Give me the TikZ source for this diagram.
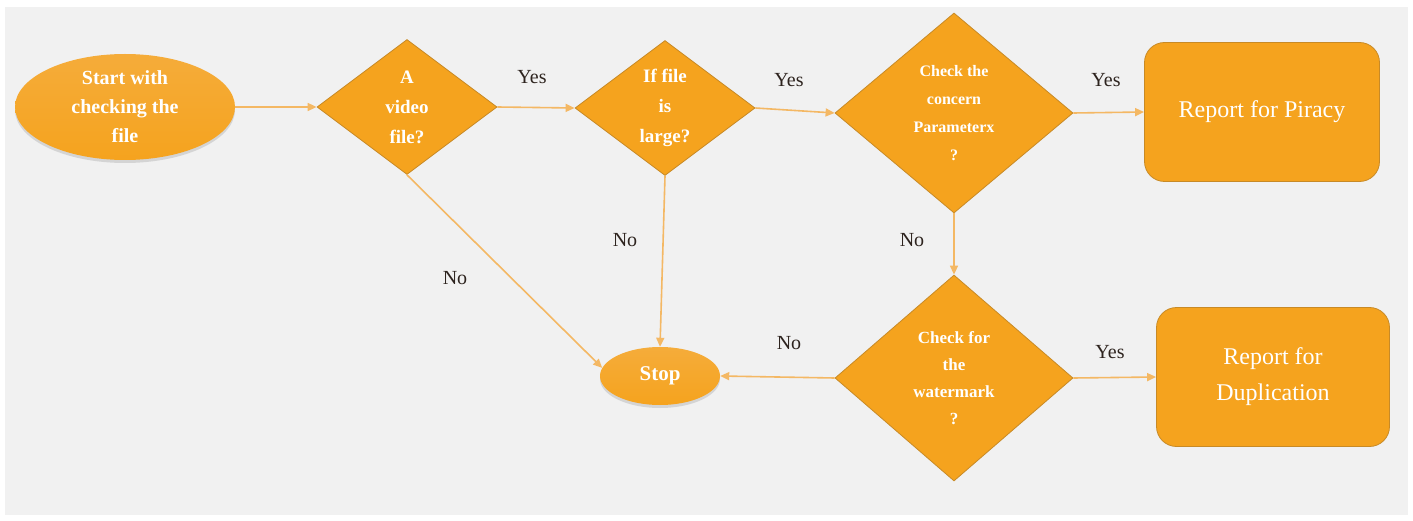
\documentclass[tikz,border=0pt]{standalone}
\usepackage{fontspec}
\setmainfont{Liberation Serif}
\usetikzlibrary{shapes.geometric,arrows.meta,shadows}
\definecolor{ofill}{RGB}{245,163,30}
\definecolor{otop}{RGB}{245,172,58}
\definecolor{oline}{RGB}{200,138,38}
\definecolor{arrowc}{RGB}{244,184,100}
\definecolor{bggray}{RGB}{241,241,241}
\definecolor{labc}{RGB}{45,35,30}
\begin{document}
\begin{tikzpicture}[x=1pt,y=-1pt,
  every node/.style={inner sep=0pt},
  term/.style={ellipse,top color=otop,bottom color=ofill,draw=none,text=white,align=center,
    drop shadow={opacity=0.25,shadow xshift=0pt,shadow yshift=-3pt}},
  decide/.style={diamond,fill=ofill,draw=oline,line width=0.8pt,text=white,align=center},
  report/.style={rectangle,rounded corners=20pt,fill=ofill,draw=oline,line width=0.8pt,text=white,align=center},
  conn/.style={draw=arrowc,line width=1.6pt,-{Triangle[length=9pt,width=8pt]}},
  lab/.style={text=labc,font=\fontsize{20}{24}\selectfont}
]
\useasboundingbox (0,0) rectangle (1413,521);
\fill[white] (0,0) rectangle (1413,521);
\fill[bggray] (5,7) rectangle (1408,515);

\node[term,minimum width=220pt,minimum height=106pt,font=\bfseries\fontsize{20}{29}\selectfont] (start) at (125,107) {Start with\\checking the\\file};
\node[decide,minimum width=180pt,minimum height=135pt,aspect=1.33,font=\bfseries\fontsize{19}{30}\selectfont] (d1) at (407,107) {A\\video\\file?};
\node[decide,minimum width=180pt,minimum height=135pt,aspect=1.33,font=\bfseries\fontsize{19}{30}\selectfont] (d2) at (665,108) {If file\\is\\large?};
\node[decide,minimum width=238pt,minimum height=200pt,aspect=1.19,font=\bfseries\fontsize{16}{28}\selectfont] (d3) at (954,113) {Check the\\concern\\Parameterx\\?};
\node[report,minimum width=235pt,minimum height=139pt,font=\fontsize{24}{36}\selectfont] (piracy) at (1262,112) {Report for Piracy};
\node[decide,minimum width=238pt,minimum height=206pt,aspect=1.16,font=\bfseries\fontsize{17}{27}\selectfont] (d4) at (954,378) {Check for\\the\\watermark\\?};
\node[report,minimum width=233pt,minimum height=139pt,font=\fontsize{24}{36}\selectfont] (dup) at (1273,377) {Report for\\Duplication};
\node[term,minimum width=120pt,minimum height=58pt,font=\bfseries\fontsize{21}{25}\selectfont] (stop) at (660,376) {Stop};

\draw[conn] (start.east) -- (d1.west);
\draw[conn] (d1.east) -- (d2.west);
\draw[conn] (d2.east) -- (d3.west);
\draw[conn] (d3.east) -- (piracy.west);
\draw[conn] (d3.south) -- (d4.north);
\draw[conn] (d4.west) -- (stop.east);
\draw[conn] (d4.east) -- (dup.west);
\draw[conn] (d2.south) -- (stop.north);
\draw[conn] (d1.south) -- (stop.172);

\node[lab] (l1) at (532,77) {Yes};
\node[lab] (l2) at (789,80) {Yes};
\node[lab] (l3) at (1106,80) {Yes};
\node[lab] (l4) at (912,240) {No};
\node[lab] (l5) at (625,240) {No};
\node[lab] (l6) at (455,278) {No};
\node[lab] (l7) at (789,343) {No};
\node[lab] (l8) at (1110,352) {Yes};
\end{tikzpicture}
\end{document}
